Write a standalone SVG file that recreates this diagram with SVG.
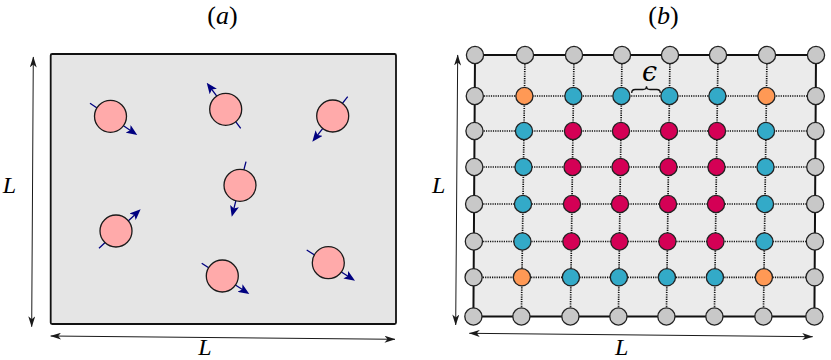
<svg xmlns="http://www.w3.org/2000/svg" width="831" height="360" viewBox="0 0 831 360">
<style>
.lbl{font-family:"Liberation Serif","DejaVu Serif",serif;font-style:italic;fill:#000;text-anchor:middle}
.up{font-style:normal}
.part{fill:#ffaaaa;stroke:#1a1a1a;stroke-width:1.3}
.vel{stroke:#000080;stroke-width:1.3;fill:none;marker-end:url(#vh)}
.dim{stroke:#1a1a1a;stroke-width:1;fill:none;marker-start:url(#dh);marker-end:url(#dh)}
.dot{stroke:#111;stroke-width:1.7;stroke-dasharray:1.2 1.1;fill:none}
.g{fill:#c8c8c8;stroke:#222;stroke-width:1.3}
.o{fill:#ff9955;stroke:#222;stroke-width:1.3}
.c{fill:#33aac8;stroke:#222;stroke-width:1.3}
.r{fill:#d40055;stroke:#222;stroke-width:1.3}
</style>
<defs>
<marker id="vh" viewBox="0 0 11 9" refX="6" refY="4.5" markerWidth="11" markerHeight="9" markerUnits="userSpaceOnUse" orient="auto">
<path d="M0,0 L11,4.5 L0,9 L2.5,4.5 z" fill="#000080"/>
</marker>
<marker id="dh" viewBox="0 0 11 7" refX="10.5" refY="3.5" markerWidth="11" markerHeight="7" markerUnits="userSpaceOnUse" orient="auto-start-reverse">
<path d="M0,0 L11,3.5 L0,7 L3,3.5 z" fill="#1a1a1a"/>
</marker>
</defs>

<!-- Panel (a) -->
<text class="lbl" x="222.5" y="24" font-size="26"><tspan class="up">(</tspan>a<tspan class="up">)</tspan></text>
<g id="box-a">
<rect x="50.7" y="54" width="345.3" height="270" rx="1.5" fill="#e5e5e5" stroke="#111" stroke-width="1.8"/>
</g>

<g id="connectors-a">
<line class="dim" x1="33.3" y1="57" x2="31.7" y2="326.7"/>
<line class="dim" x1="50.7" y1="336" x2="395" y2="339.3"/>
<line class="vel" x1="90" y1="103.3" x2="133.1" y2="132.2"/>
<line class="vel" x1="240.7" y1="128.3" x2="209.7" y2="86.7"/>
<line class="vel" x1="347.7" y1="96.7" x2="315.4" y2="137.8"/>
<line class="vel" x1="246" y1="161.7" x2="233" y2="211.9"/>
<line class="vel" x1="99" y1="248.3" x2="137" y2="212.7"/>
<line class="vel" x1="201.7" y1="263.3" x2="245.1" y2="291.3"/>
<line class="vel" x1="306.7" y1="250" x2="350.8" y2="278"/>
</g>

<g id="p1"><circle class="part" cx="110.5" cy="116.3" r="16"/></g>
<g id="p2"><circle class="part" cx="225.7" cy="109.3" r="16"/></g>
<g id="p3"><circle class="part" cx="332.7" cy="116" r="16"/></g>
<g id="p4"><circle class="part" cx="240" cy="185.3" r="16"/></g>
<g id="p5"><circle class="part" cx="116" cy="231" r="16"/></g>
<g id="p6"><circle class="part" cx="222.3" cy="276" r="16"/></g>
<g id="p7"><circle class="part" cx="328.3" cy="262.7" r="16"/></g>

<text class="lbl" x="9.5" y="193" font-size="24">L</text>
<text class="lbl" x="205" y="354.5" font-size="24">L</text>

<!-- Panel (b) -->
<text class="lbl" x="663.5" y="24" font-size="26"><tspan class="up">(</tspan>b<tspan class="up">)</tspan></text>

<g id="frame-b">
<polygon points="475,55 816,55 814.4,316.5 473.4,316.5" fill="#ebebeb" stroke="#111" stroke-width="2"/>
</g>

<g id="connectors-b">
<line class="dim" x1="457.7" y1="55" x2="455.7" y2="325"/>
<line class="dim" x1="469.3" y1="333.3" x2="812.7" y2="336.7"/>
<line class="dot" x1="474.8" y1="96" x2="815.8" y2="96"/>
<line class="dot" x1="474.5" y1="131" x2="815.5" y2="131"/>
<line class="dot" x1="474.3" y1="167" x2="815.3" y2="167"/>
<line class="dot" x1="474.1" y1="204" x2="815.1" y2="204"/>
<line class="dot" x1="473.9" y1="241.5" x2="814.9" y2="241.5"/>
<line class="dot" x1="473.6" y1="277.3" x2="814.6" y2="277.3"/>
<line class="dot" x1="525" y1="55" x2="521.4" y2="316.5"/>
<line class="dot" x1="574" y1="55" x2="570.4" y2="316.5"/>
<line class="dot" x1="622" y1="55" x2="618.4" y2="316.5"/>
<line class="dot" x1="670" y1="55" x2="666.4" y2="316.5"/>
<line class="dot" x1="718" y1="55" x2="714.4" y2="316.5"/>
<line class="dot" x1="767" y1="55" x2="763.4" y2="316.5"/>
</g>

<!-- row 0 -->
<g id="s0-0"><circle class="g" cx="475" cy="55" r="8.6"/></g>
<g id="s0-1"><circle class="g" cx="525" cy="55" r="8.6"/></g>
<g id="s0-2"><circle class="g" cx="574" cy="55" r="8.6"/></g>
<g id="s0-3"><circle class="g" cx="622" cy="55" r="8.6"/></g>
<g id="s0-4"><circle class="g" cx="670" cy="55" r="8.6"/></g>
<g id="s0-5"><circle class="g" cx="718" cy="55" r="8.6"/></g>
<g id="s0-6"><circle class="g" cx="767" cy="55" r="8.6"/></g>
<g id="s0-7"><circle class="g" cx="816" cy="55" r="8.6"/></g>
<!-- row 1 -->
<g id="s1-0"><circle class="g" cx="474.8" cy="96" r="8.6"/></g>
<g id="s1-1"><circle class="o" cx="524.4" cy="96" r="8.6"/></g>
<g id="s1-2"><circle class="c" cx="573.4" cy="96" r="8.6"/></g>
<g id="s1-3"><circle class="c" cx="621.4" cy="96" r="8.6"/></g>
<g id="s1-4"><circle class="c" cx="669.4" cy="96" r="8.6"/></g>
<g id="s1-5"><circle class="c" cx="717.4" cy="96" r="8.6"/></g>
<g id="s1-6"><circle class="o" cx="766.4" cy="96" r="8.6"/></g>
<g id="s1-7"><circle class="g" cx="815.8" cy="96" r="8.6"/></g>
<!-- row 2 -->
<g id="s2-0"><circle class="g" cx="474.5" cy="131" r="8.6"/></g>
<g id="s2-1"><circle class="c" cx="524" cy="131" r="8.6"/></g>
<g id="s2-2"><circle class="r" cx="573" cy="131" r="8.6"/></g>
<g id="s2-3"><circle class="r" cx="621" cy="131" r="8.6"/></g>
<g id="s2-4"><circle class="r" cx="669" cy="131" r="8.6"/></g>
<g id="s2-5"><circle class="r" cx="717" cy="131" r="8.6"/></g>
<g id="s2-6"><circle class="c" cx="766" cy="131" r="8.6"/></g>
<g id="s2-7"><circle class="g" cx="815.5" cy="131" r="8.6"/></g>
<!-- row 3 -->
<g id="s3-0"><circle class="g" cx="474.3" cy="167" r="8.6"/></g>
<g id="s3-1"><circle class="c" cx="523.5" cy="167" r="8.6"/></g>
<g id="s3-2"><circle class="r" cx="572.5" cy="167" r="8.6"/></g>
<g id="s3-3"><circle class="r" cx="620.5" cy="167" r="8.6"/></g>
<g id="s3-4"><circle class="r" cx="668.5" cy="167" r="8.6"/></g>
<g id="s3-5"><circle class="r" cx="716.5" cy="167" r="8.6"/></g>
<g id="s3-6"><circle class="c" cx="765.5" cy="167" r="8.6"/></g>
<g id="s3-7"><circle class="g" cx="815.3" cy="167" r="8.6"/></g>
<!-- row 4 -->
<g id="s4-0"><circle class="g" cx="474.1" cy="204" r="8.6"/></g>
<g id="s4-1"><circle class="c" cx="523" cy="204" r="8.6"/></g>
<g id="s4-2"><circle class="r" cx="572" cy="204" r="8.6"/></g>
<g id="s4-3"><circle class="r" cx="620" cy="204" r="8.6"/></g>
<g id="s4-4"><circle class="r" cx="668" cy="204" r="8.6"/></g>
<g id="s4-5"><circle class="r" cx="716" cy="204" r="8.6"/></g>
<g id="s4-6"><circle class="c" cx="765" cy="204" r="8.6"/></g>
<g id="s4-7"><circle class="g" cx="815.1" cy="204" r="8.6"/></g>
<!-- row 5 -->
<g id="s5-0"><circle class="g" cx="473.9" cy="241.5" r="8.6"/></g>
<g id="s5-1"><circle class="c" cx="522.4" cy="241.5" r="8.6"/></g>
<g id="s5-2"><circle class="r" cx="571.4" cy="241.5" r="8.6"/></g>
<g id="s5-3"><circle class="r" cx="619.4" cy="241.5" r="8.6"/></g>
<g id="s5-4"><circle class="r" cx="667.4" cy="241.5" r="8.6"/></g>
<g id="s5-5"><circle class="r" cx="715.4" cy="241.5" r="8.6"/></g>
<g id="s5-6"><circle class="c" cx="764.4" cy="241.5" r="8.6"/></g>
<g id="s5-7"><circle class="g" cx="814.9" cy="241.5" r="8.6"/></g>
<!-- row 6 -->
<g id="s6-0"><circle class="g" cx="473.6" cy="277.3" r="8.6"/></g>
<g id="s6-1"><circle class="o" cx="521.9" cy="277.3" r="8.6"/></g>
<g id="s6-2"><circle class="c" cx="570.9" cy="277.3" r="8.6"/></g>
<g id="s6-3"><circle class="c" cx="618.9" cy="277.3" r="8.6"/></g>
<g id="s6-4"><circle class="c" cx="666.9" cy="277.3" r="8.6"/></g>
<g id="s6-5"><circle class="c" cx="714.9" cy="277.3" r="8.6"/></g>
<g id="s6-6"><circle class="o" cx="763.9" cy="277.3" r="8.6"/></g>
<g id="s6-7"><circle class="g" cx="814.6" cy="277.3" r="8.6"/></g>
<!-- row 7 -->
<g id="s7-0"><circle class="g" cx="473.4" cy="316.5" r="8.6"/></g>
<g id="s7-1"><circle class="g" cx="521.4" cy="316.5" r="8.6"/></g>
<g id="s7-2"><circle class="g" cx="570.4" cy="316.5" r="8.6"/></g>
<g id="s7-3"><circle class="g" cx="618.4" cy="316.5" r="8.6"/></g>
<g id="s7-4"><circle class="g" cx="666.4" cy="316.5" r="8.6"/></g>
<g id="s7-5"><circle class="g" cx="714.4" cy="316.5" r="8.6"/></g>
<g id="s7-6"><circle class="g" cx="763.4" cy="316.5" r="8.6"/></g>
<g id="s7-7"><circle class="g" cx="814.4" cy="316.5" r="8.6"/></g>

<g id="epsilon">
<path d="M631.7,93 Q631.7,89.5 635.2,89.5 L643,89.5 Q646.5,89.5 646.5,86.3 Q646.5,89.5 650,89.5 L656.8,89.5 Q660.3,89.5 660.3,93" fill="none" stroke="#111" stroke-width="1.3"/>
<text x="649.5" y="80.5" font-family="DejaVu Serif, serif" font-style="italic" font-size="27" text-anchor="middle">ϵ</text>
</g>

<text class="lbl" x="438.7" y="192.7" font-size="24">L</text>
<text class="lbl" x="621.7" y="354.5" font-size="24">L</text>
</svg>
